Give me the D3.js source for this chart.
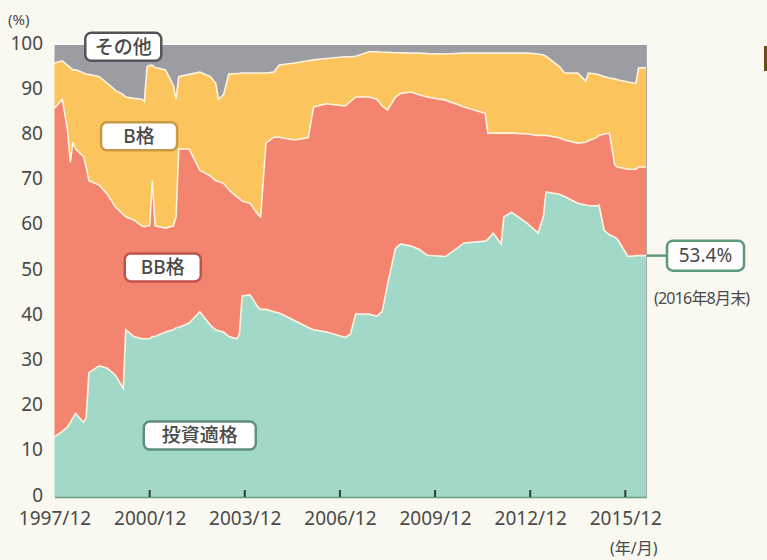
<!DOCTYPE html>
<html>
<head>
<meta charset="utf-8">
<script src="https://cdn.jsdelivr.net/npm/d3@7"></script>
<style>
  body { margin: 0; background: #f9f8f1; }
  svg { display: block; }
  text { font-family: "Noto Sans", "Noto Sans CJK JP", sans-serif; fill: #4a4a4a; }
</style>
</head>
<body>
<script>

// month (end of month) of each observation
var months = ["1997/12","1998/03","1998/05","1998/06","1998/07","1998/08","1998/11","1998/12",
  "1999/01","1999/05","1999/08","1999/11","2000/02","2000/03","2000/06","2000/09","2000/10",
  "2000/11","2000/12","2001/01","2001/02","2001/06","2001/09","2001/10","2001/11","2002/03",
  "2002/07","2002/11","2003/01","2003/02","2003/04","2003/06","2003/09","2003/10","2003/11",
  "2004/02","2004/05","2004/06","2004/08","2004/11","2005/01","2005/07","2005/12","2006/02",
  "2006/07","2007/02","2007/04","2007/06","2007/11","2008/02","2008/04","2008/06","2008/09",
  "2008/11","2009/03","2009/06","2009/09","2010/04","2010/11","2011/07","2011/08","2011/10",
  "2012/01","2012/02","2012/05","2012/11","2013/03","2013/05","2013/06","2013/11","2014/01",
  "2014/06","2014/09","2014/10","2015/01","2015/02","2015/04","2015/06","2015/08","2015/09",
  "2016/01","2016/04","2016/05","2016/08"];

// share of each rating bucket (%)
var investGrade = [13.3,14.5,15.5,16.5,17.5,18.5,16.5,17.5,
  27.5,29,28.5,27,24,37,35.5,35,35,
  35,35,35.5,35.5,36.5,37,37.5,37.5,38.5,
  41,38,37,36.8,36.5,35.5,35,36,44.5,
  44.7,42,41.5,41.5,41,40.7,39,37.5,37,
  36.5,35.3,36,40.5,40.5,40,41,47,55,
  56,55.5,54.8,53.5,53.2,56.2,56.6,57,58.4,
  56,62,63,60.5,58.4,62,67.5,67,66.5,
  65,64.6,64.5,64.4,64.6,59,58,57.5,57,
  53.2,53.4,53.4,53.4];

var bbGrade = [72.7,73.5,65.5,57.5,61,58.5,58.8,55.5,
  42.5,40,38.5,37.2,38.5,25,25.8,25,24.8,
  25,25,34.5,24.5,23,23,24.5,39.5,38.5,
  31.3,33,33,33,32.9,32.5,31.4,30,21,
  20.3,20.5,20.5,36.8,38.6,38.9,40,42,49.3,
  50.5,51.2,51.5,48,48,48,45.5,38.6,33.5,
  33.3,34.1,34.2,35,34.6,30.1,28.3,23.5,22.1,
  24.5,18.5,17.5,19.8,21.6,18,12.5,12.5,12.5,
  13.3,13.9,14.3,15.1,15.4,21.3,22.5,16,16,
  19.3,19.1,19.6,19.6];

var bGrade = [10,8.5,14.5,21,16,17.5,18.5,20.6,
  23.5,24,24.5,25.8,26.5,26.5,26.9,28,27.7,
  35.2,35.5,25.5,35,35,31,26,16,16.5,
  21.7,22,21.5,18.2,19.6,25.6,27.3,27.7,28.3,
  28.8,31.3,31.8,15.5,14.4,16,17,17,10.4,
  10,10.9,9.9,9,10,10.5,11.9,12.8,9.8,
  9,8.6,9.2,9.6,10.2,11.9,13.3,17.7,17.7,
  17.7,17.7,17.7,17.9,18,17.8,17.5,15.7,14.8,
  15.5,13.5,15,14.1,13.4,12.7,12.2,19,19.3,
  19.3,19,21.9,22];

var others = [4,3.5,4.5,5,5.5,5.5,6.2,6.4,
  6.5,7,8.5,10,11,11.5,11.8,12,12.5,
  4.8,4.5,4.5,5,5.5,9,12,7,6.5,
  6,7,8.5,12,11,6.4,6.3,6.3,6.2,
  6.2,6.2,6.2,6.2,6,4.4,4,3.5,3.3,
  3,2.6,2.6,2.5,1.5,1.5,1.6,1.6,1.7,
  1.7,1.8,1.8,1.9,2,1.8,1.8,1.8,1.8,
  1.8,1.8,1.8,1.8,2,2.2,2.5,4.8,6.2,
  6.2,8,6.2,6.4,6.6,7,7.3,7.5,7.7,
  8.2,8.5,5.1,5];

var keys = ["ig", "bb", "b", "other"];
var colors = {ig: "#a1d8c8", bb: "#f3846f", b: "#fcc45c", other: "#9c9da3"};

var xTicks = ["1997/12","2000/12","2003/12","2006/12","2009/12","2012/12","2015/12"];
var yTicks = [0,10,20,30,40,50,60,70,80,90,100];

// labels inside the chart: [text, date, value, border colour, width]
var labels = [
  ["その他", "2000/02", 99.6, "#555559", 76],
  ["B格", "2000/08", 79.8, "#c99a45", 76],
  ["BB格", "2001/05", 50.8, "#c2534b", 76],
  ["投資適格", "2002/07", 13.6, "#5f8f80", 112]
];
var lastLabel = "53.4%";
var lastNote = "(2016年8月末)";

var parse = d3.timeParse("%Y/%m");

var table = months.map(function(m, i) {
  return {date: parse(m), ig: investGrade[i], bb: bbGrade[i], b: bGrade[i], other: others[i]};
});

var stack = d3.stack().keys(keys)(table);

var svg = d3.select("body").append("svg")
  .attr("width", 767)
  .attr("height", 560);

var x = d3.scaleTime()
  .domain([parse("1997/12"), parse("2016/08")])
  .range([54.5, 646.5]);

var y = d3.scaleLinear()
  .domain([0, 100])
  .range([497, 45]);

var area = d3.area()
  .x(function(d) { return x(d.data.date); })
  .y0(function(d) { return y(d[0]); })
  .y1(function(d) { return y(d[1]); });

svg.selectAll(".layer")
  .data(stack)
  .enter().append("path")
    .attr("class", "layer")
    .attr("d", area)
    .attr("fill", function(d) { return colors[d.key]; });

// thin light lines between the layers
var topLine = d3.line()
  .x(function(d) { return x(d.data.date); })
  .y(function(d) { return y(d[1]); });

svg.selectAll(".edge")
  .data(stack.slice(0, 3))
  .enter().append("path")
    .attr("class", "edge")
    .attr("d", topLine)
    .attr("fill", "none")
    .attr("stroke", "#fff4e2")
    .attr("stroke-width", 1.6);

// right border
svg.append("line")
  .attr("x1", 646.5).attr("x2", 646.5)
  .attr("y1", 45).attr("y2", 497)
  .attr("stroke", "#a9aaa8")
  .attr("stroke-width", 1);

// x axis
var xAxis = d3.axisBottom(x)
  .tickValues(xTicks.map(parse))
  .tickSize(0)
  .tickPadding(15)
  .tickFormat(d3.timeFormat("%Y/%m"));

var gx = svg.append("g")
  .attr("transform", "translate(0,497)")
  .call(xAxis);
gx.select(".domain").attr("stroke", "#6f9c88").attr("stroke-width", 1.5);
gx.selectAll("text")
  .attr("font-size", 19)
  .attr("fill", "#4a4a4a")
  .attr("font-family", "'Noto Sans', sans-serif");

// small tick marks standing on the axis
svg.selectAll(".tickmark")
  .data(xTicks.slice(1))
  .enter().append("line")
    .attr("class", "tickmark")
    .attr("x1", function(d) { return x(parse(d)); })
    .attr("x2", function(d) { return x(parse(d)); })
    .attr("y1", 490).attr("y2", 497)
    .attr("stroke", "#2f3d35")
    .attr("stroke-width", 2);

// y axis (labels only)
var yAxis = d3.axisLeft(y)
  .tickValues(yTicks)
  .tickSize(0)
  .tickPadding(11);

var gy = svg.append("g")
  .attr("transform", "translate(54,-2)")
  .call(yAxis);
gy.select(".domain").remove();
gy.selectAll("text")
  .attr("font-size", 19)
  .attr("fill", "#4a4a4a")
  .attr("font-family", "'Noto Sans', sans-serif");

svg.append("text")
  .attr("x", 8).attr("y", 25)
  .attr("font-size", 15)
  .text("(%)");

svg.append("text")
  .attr("x", 610).attr("y", 554)
  .attr("font-size", 16)
  .text("(年/月)");

// boxed labels
var lab = svg.selectAll(".lab")
  .data(labels)
  .enter().append("g")
    .attr("class", "lab")
    .attr("transform", function(d) { return "translate(" + x(parse(d[1])) + "," + y(d[2]) + ")"; });

lab.append("rect")
  .attr("x", function(d) { return -d[4] / 2; })
  .attr("y", -14)
  .attr("width", function(d) { return d[4]; })
  .attr("height", 28)
  .attr("rx", 6)
  .attr("fill", "#ffffff")
  .attr("stroke", function(d) { return d[3]; })
  .attr("stroke-width", 2.5);

lab.append("text")
  .attr("text-anchor", "middle")
  .attr("dy", "0.36em")
  .attr("font-size", 19)
  .attr("font-weight", 500)
  .attr("fill", "#333")
  .attr("font-family", "'Noto Sans CJK JP', sans-serif")
  .text(function(d) { return d[0]; });

// last value call-out
var lastY = y(investGrade[investGrade.length - 1]);
svg.append("line")
  .attr("x1", 647).attr("x2", 667)
  .attr("y1", lastY).attr("y2", lastY)
  .attr("stroke", "#5d9a7c")
  .attr("stroke-width", 2.5);

svg.append("rect")
  .attr("x", 667).attr("y", lastY - 15)
  .attr("width", 77).attr("height", 30)
  .attr("rx", 6)
  .attr("fill", "#ffffff")
  .attr("stroke", "#5d9a7c")
  .attr("stroke-width", 2.5);

svg.append("text")
  .attr("x", 705.5).attr("y", lastY)
  .attr("dy", "0.36em")
  .attr("text-anchor", "middle")
  .attr("font-size", 19)
  .attr("fill", "#4a4a66")
  .text(lastLabel);

svg.append("text")
  .attr("x", 654).attr("y", lastY + 48)
  .attr("font-size", 16)
  .attr("letter-spacing", -0.8)
  .attr("fill", "#333")
  .attr("font-family", "'Noto Sans CJK JP', sans-serif")
  .text(lastNote);

// cut-off mark at the right edge
svg.append("rect")
  .attr("x", 764).attr("y", 46)
  .attr("width", 4).attr("height", 25)
  .attr("fill", "#6b4c12");

</script>
</body>
</html>
